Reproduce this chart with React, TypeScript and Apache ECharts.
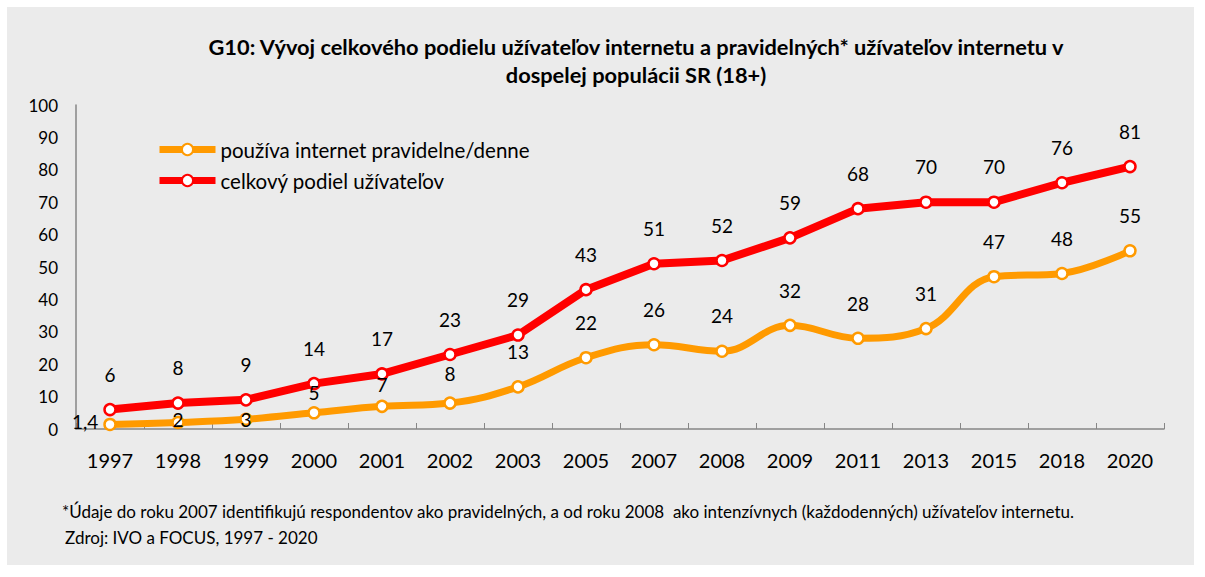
import React, { useEffect, useRef } from "react";
import * as echarts from "echarts";

const years = ["1997", "1998", "1999", "2000", "2001", "2002", "2003", "2005", "2007", "2008", "2009", "2011", "2013", "2015", "2018", "2020"];
const regularUsers = [1.4, 2, 3, 5, 7, 8, 13, 22, 26, 24, 32, 28, 31, 47, 48, 55];
const totalUsers = [6, 8, 9, 14, 17, 23, 29, 43, 51, 52, 59, 68, 70, 70, 76, 81];
const yTicks = { min: 0, max: 100, interval: 10 };

const titleText = "G10: Vývoj celkového podielu užívateľov internetu a pravidelných* užívateľov internetu v\ndospelej populácii SR (18+)";
const legendRegular = "používa internet pravidelne/denne";
const legendTotal = "celkový podiel užívateľov";
const footnote1 = "*Údaje do roku 2007 identifikujú respondentov ako pravidelných, a od roku 2008  ako intenzívnych (každodenných) užívateľov internetu.";
const footnote2 = "Zdroj: IVO a FOCUS, 1997 - 2020";

const FONT = "Lato, 'Noto Sans', sans-serif";
const ORANGE = "#FF9A00";
const RED = "#FF0000";

const fmt = (v: number) => String(v).replace(".", ",");

function orangeLabel(i: number) {
  if (i === 0) return { position: "left", distance: 5, offset: [0, -3] };
  if (i === 1) return { position: "inside", offset: [0, -3] };
  if (i === 2) return { position: "inside", offset: [0, 0] };
  if (i === 3) return { position: "top", distance: 4 };
  if (i === 4) return { position: "top", distance: 6 };
  if (i === 5) return { position: "top", distance: 13 };
  return { position: "top", distance: 19 };
}

export default function App() {
  const ref = useRef<HTMLDivElement>(null);
  useEffect(() => {
    if (!ref.current) return;
    const chart = echarts.init(ref.current, null, { renderer: "svg" });
    const labelBase = { show: true, color: "#000", fontSize: 19, fontFamily: FONT };
    chart.setOption({
      animation: false,
      backgroundColor: "#ffffff",
      textStyle: { fontFamily: FONT },
      title: {
        text: titleText,
        left: 631,
        top: 27,
        textAlign: "center",
        textStyle: { fontSize: 21.8, fontWeight: "bold", color: "#000", lineHeight: 28, fontFamily: FONT },
      },
      legend: {
        orient: "vertical",
        left: 151,
        top: 134,
        itemWidth: 56,
        itemHeight: 14,
        itemGap: 10,
        lineStyle: { width: 7 },
        textStyle: { fontSize: 20.5, color: "#000", fontFamily: FONT },
        data: [legendRegular, legendTotal],
      },
      graphic: [
        { type: "rect", z: -10, silent: true, shape: { x: 7, y: 7, width: 1187, height: 558 }, style: { fill: "#EBEBEB" } },
        { type: "text", x: 62, y: 511, style: { text: footnote1, fontSize: 17, fontFamily: FONT, fill: "#000", verticalAlign: "middle" } },
        { type: "text", x: 65, y: 537, style: { text: footnote2, fontSize: 17, fontFamily: FONT, fill: "#000", verticalAlign: "middle" } },
      ],
      grid: { left: 76, right: 41, top: 105, bottom: 148, containLabel: false },
      xAxis: {
        type: "category",
        data: years,
        boundaryGap: true,
        axisLine: { lineStyle: { color: "#868686", width: 1.5 } },
        axisTick: { show: true, inside: true, length: 6, alignWithLabel: false, lineStyle: { color: "#868686" } },
        axisLabel: { color: "#000", fontSize: 20, margin: 21, fontFamily: FONT },
      },
      yAxis: {
        type: "value",
        min: yTicks.min,
        max: yTicks.max,
        interval: yTicks.interval,
        axisLine: { show: true, lineStyle: { color: "#868686", width: 1.5 } },
        axisTick: { show: false },
        splitLine: { show: false },
        axisLabel: { color: "#000", fontSize: 17, margin: 18, fontFamily: FONT },
      },
      series: [
        {
          name: legendRegular,
          type: "line",
          smooth: 0.4,
          symbol: "circle",
          symbolSize: 11,
          z: 3,
          lineStyle: { color: ORANGE, width: 7 },
          itemStyle: { color: "#ffffff", borderColor: ORANGE, borderWidth: 2.5 },
          data: regularUsers.map((v, i) => ({
            value: v,
            label: { ...labelBase, ...orangeLabel(i), formatter: () => fmt(v) },
          })),
        },
        {
          name: legendTotal,
          type: "line",
          smooth: false,
          symbol: "circle",
          symbolSize: 11,
          z: 2,
          lineStyle: { color: RED, width: 8 },
          itemStyle: { color: "#ffffff", borderColor: RED, borderWidth: 2.5 },
          label: { ...labelBase, position: "top", distance: 19, formatter: (p: any) => fmt(p.value) },
          data: totalUsers,
        },
      ],
    });
    return () => chart.dispose();
  }, []);
  return <div ref={ref} style={{ position: "fixed", left: 0, top: 0, width: 1205, height: 577 }} />;
}
